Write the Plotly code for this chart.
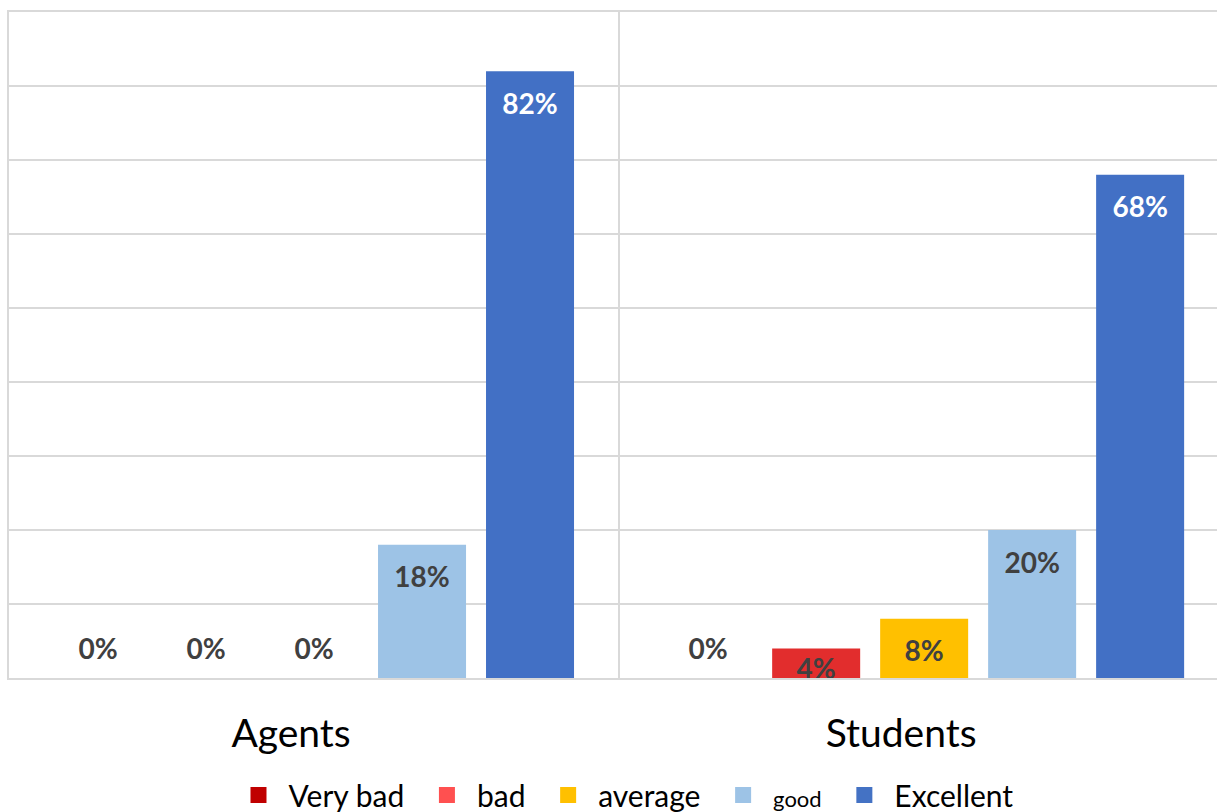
import plotly.graph_objects as go

categories = ["Agents", "Students"]
series_names = ["Very bad", "bad", "average", "good", "Excellent"]
very_bad = [0.00, 0.00]
bad = [0.00, 0.04]
average = [0.00, 0.08]
good = [0.18, 0.20]
excellent = [0.82, 0.68]

series_values = [very_bad, bad, average, good, excellent]
bar_colors = ["#C00000", "#E22D2D", "#FFC000", "#9DC3E6", "#4270C5"]
legend_colors = ["#C00000", "#FF5050", "#FFC000", "#9DC3E6", "#4472C4"]
inside_text_colors = ["#404040", "#404040", "#404040", "#404040", "#FFFFFF"]
legend_sizes = [30, 30, 30, 22, 30]

FONT = "Lato, 'Open Sans', sans-serif"
LBL = "<span style='font-size:28px'>%{y:.0%}</span>"
NB = "\u00a0"


def label_template(v):
    if v == 0:
        return LBL + "<br>" + NB          # sits a little higher above the baseline
    if v < 0.05:
        return LBL                        # straddles the short bar's top
    return NB + "<br>" + NB + "<br>" + LBL  # a little lower inside the bar top


def label_position(v):
    return "outside" if v == 0 else "inside"


fig = go.Figure()
for name, vals, col, tcol in zip(series_names, series_values, bar_colors, inside_text_colors):
    fig.add_trace(go.Bar(
        x=categories, y=vals, name=name,
        marker=dict(color=col, line=dict(width=0)),
        texttemplate=[label_template(v) for v in vals],
        textposition=[label_position(v) for v in vals],
        insidetextanchor="end",
        constraintext="none",
        insidetextfont=dict(family=FONT, size=11, color=tcol, weight="bold"),
        outsidetextfont=dict(family=FONT, size=11, color="#404040", weight="bold"),
        cliponaxis=False,
        showlegend=False,
        hoverinfo="skip",
    ))

for name, col, sz in zip(series_names, legend_colors, legend_sizes):
    fig.add_trace(go.Scatter(
        x=[None], y=[None], mode="markers",
        name=f"<span style='font-size:{sz}px'>{name}</span>{NB}",
        marker=dict(symbol="square", size=18, color=col),
        showlegend=True,
    ))

fig.update_layout(
    width=1217, height=812,
    margin=dict(l=9, r=0, t=12, b=134, autoexpand=False),
    paper_bgcolor="white", plot_bgcolor="white",
    barmode="group", bargap=0.115, bargroupgap=0.185,
    font=dict(family=FONT, color="#000000"),
    legend=dict(
        orientation="h", xref="paper", yref="container",
        x=0.512, xanchor="center", y=0.021, yanchor="middle",
        font=dict(family=FONT, size=30, color="#000000"),
        itemsizing="trace", itemwidth=50,
        bgcolor="rgba(0,0,0,0)",
    ),
    xaxis=dict(
        type="category", range=[-0.5, 1.48], automargin=False,
        tickson="boundaries", showgrid=True, gridcolor="#D9D9D9", gridwidth=2,
        showline=True, linecolor="#D9D9D9", linewidth=2, mirror=True,
        ticks="", tickfont=dict(family=FONT, size=39, color="#000000"),
        ticklabelstandoff=20, ticklabelshift=-23,
        fixedrange=True,
    ),
    yaxis=dict(
        range=[0, 0.9], dtick=0.1, showticklabels=False, automargin=False,
        showgrid=True, gridcolor="#D9D9D9", gridwidth=2,
        showline=True, linecolor="#D9D9D9", linewidth=2,
        zeroline=False, ticks="",
        fixedrange=True,
    ),
)

fig.write_html("out.html")
